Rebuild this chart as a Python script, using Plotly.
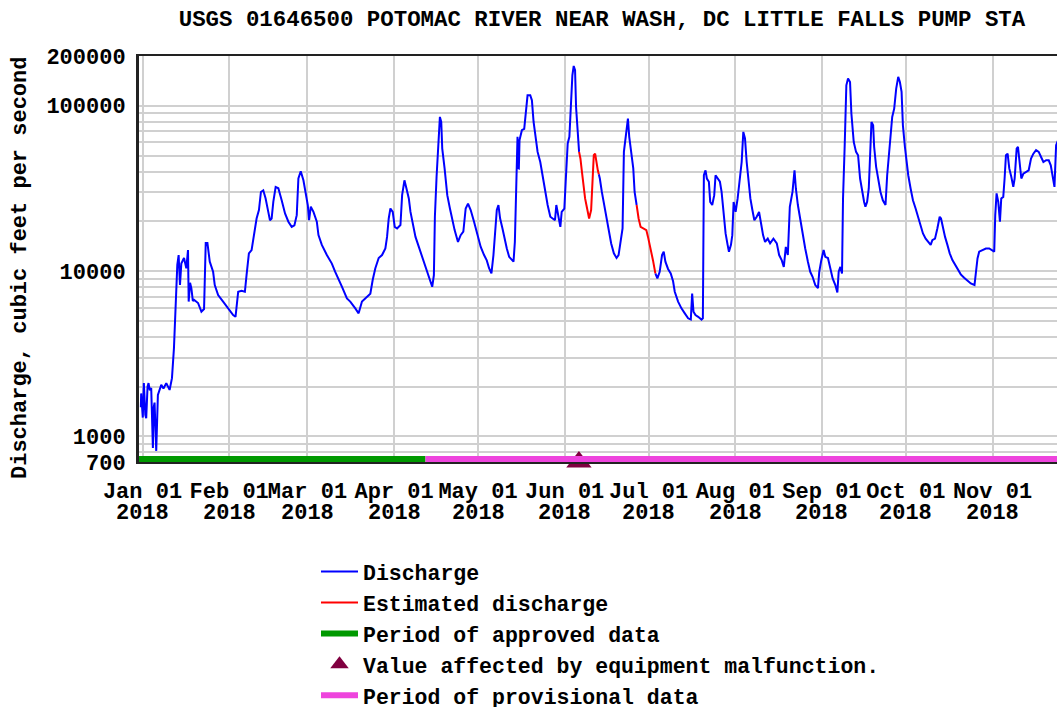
import pandas as pd
import plotly.graph_objects as go

# ---------------- data ----------------
# day = days since 2018-01-01 00:00, cfs = discharge (cubic feet per second)
day = [-0.6, -0.48, 0.1, 0.48, 1.0, 1.32, 1.8, 2.15, 2.6, 3.11, 3.71, 4.0, 4.31, 4.91, 5.5, 6.7, 7.5, 8.5,
       9.69, 10.53, 11.25, 11.96, 12.44, 12.92, 13.4, 13.88, 14.84, 15.67, 16.27, 16.51, 17.0, 17.47, 18.0,
       18.43, 19.86, 21.06, 22.01, 22.61, 23.21, 24.05, 25.25, 25.84, 27.04, 28.83, 30.63, 32.42, 33.26,
       34.22, 35.42, 36.61, 37.21, 38.05, 39.01, 39.6, 40.2, 40.8, 41.64, 42.35, 43.19, 44.03, 44.98, 45.58,
       46.18, 46.78, 47.62, 48.58, 49.77, 50.97, 52.17, 53.36, 54.32, 55.16, 55.75, 56.59, 57.55, 58.39,
       59.11, 59.58, 60.18, 61.14, 62.34, 62.93, 64.13, 65.93, 67.72, 68.92, 70.11, 71.31, 73.11, 74.3,
       76.1, 77.29, 78.49, 80.28, 81.48, 82.32, 83.27, 84.47, 85.67, 86.86, 87.46, 88.06, 88.66, 89.49,
       90.21, 91.05, 92.25, 92.85, 93.68, 94.4, 95.24, 95.84, 96.79, 97.63, 98.83, 100.02, 101.22, 102.42,
       103.61, 104.21, 104.57, 105.17, 105.77, 106.36, 106.84, 107.2, 108.04, 109.0, 109.95, 110.79,
       111.63, 112.83, 113.78, 114.74, 115.58, 116.42, 117.37, 118.57, 119.77, 120.96, 122.16, 123.12,
       123.95, 124.79, 125.51, 125.99, 126.71, 127.3, 127.9, 128.74, 129.58, 130.29, 131.13, 132.09,
       132.69, 133.17, 133.64, 134.12, 134.36, 134.6, 134.84, 135.08, 135.68, 136.52, 137.11, 137.71,
       138.67, 139.27, 139.87, 140.7, 141.3, 142.26, 143.1, 143.93, 144.89, 145.85, 146.69, 147.52, 148.0,
       148.72, 149.44, 149.92, 150.87, 151.35, 152.07, 152.67, 153.27, 153.74, 154.22, 154.7, 155.06,
       155.66, 156.14, 156.62, 157.1, 157.82, 158.29, 159.01, 159.73, 160.45, 160.92, 161.4, 161.88,
       162.24, 162.84, 163.2, 163.56, 164.28, 164.99, 165.83, 166.67, 167.62, 168.58, 169.54, 170.26,
       170.97, 171.69, 172.17, 173.01, 173.61, 174.08, 174.8, 175.52, 176.0, 176.72, 177.43, 178.15,
       179.11, 180.19, 180.79, 181.74, 182.58, 183.42, 184.14, 184.97, 185.81, 186.41, 187.01, 187.96,
       188.92, 189.76, 190.36, 191.55, 192.75, 193.95, 195.14, 196.1, 196.58, 197.06, 197.77, 198.73,
       199.93, 200.41, 200.77, 201.36, 201.84, 202.56, 203.04, 203.76, 204.48, 204.95, 205.67, 206.51,
       207.11, 207.83, 208.54, 209.26, 209.74, 210.46, 210.94, 211.41, 212.13, 212.85, 213.57, 214.29,
       214.88, 215.48, 216.08, 216.68, 217.4, 218.12, 218.83, 219.67, 220.51, 221.23, 221.94, 222.66,
       223.62, 224.46, 225.65, 226.85, 227.69, 228.64, 229.36, 230.08, 230.8, 231.51, 232.47, 233.19,
       233.67, 234.39, 235.22, 236.06, 237.02, 237.98, 238.81, 239.65, 240.61, 241.57, 242.04, 242.76,
       243.6, 244.2, 245.15, 245.99, 246.83, 247.79, 248.51, 248.99, 249.58, 250.18, 250.54, 251.14,
       251.73, 252.33, 253.05, 253.53, 254.37, 255.2, 255.92, 256.64, 257.36, 258.08, 258.55, 259.15,
       259.75, 260.23, 260.71, 261.31, 261.67, 262.38, 263.1, 263.94, 264.78, 265.73, 266.33, 266.93,
       267.65, 268.13, 268.84, 269.56, 270.28, 270.88, 271.48, 271.96, 272.67, 273.27, 273.87, 274.71,
       275.55, 276.5, 277.46, 278.3, 279.13, 280.09, 281.05, 281.89, 282.48, 283.44, 284.28, 285.11,
       285.59, 286.31, 287.03, 287.87, 288.7, 289.66, 290.62, 291.58, 292.65, 293.85, 295.05, 296.24,
       297.56, 298.04, 298.64, 299.24, 300.43, 301.63, 302.83, 304.02, 304.62, 304.98, 305.46, 306.06,
       306.66, 307.13, 307.85, 308.33, 308.81, 309.41, 310.0, 310.72, 311.44, 311.92, 312.64, 313.11,
       313.59, 314.31, 315.03, 315.99, 316.94, 317.78, 318.62, 319.58, 320.53, 321.37, 322.21, 323.17,
       324.12, 324.84, 325.56, 326.16, 326.75, 327.47, 328.07, 328.5]

cfs = [1500, 1820, 1300, 2100, 1350, 1290, 2000, 2100, 1900, 1960, 850, 1500, 1600, 817, 1780, 2050, 1950,
       2100, 1910, 2250, 3430, 6870, 10900, 12500, 8230, 11100, 12000, 10400, 13400, 6540, 8500, 7890,
       6600, 6700, 6410, 5680, 5900, 14800, 14800, 11400, 9900, 8230, 7160, 6540, 5950, 5420, 5290, 7500,
       7600, 7500, 9460, 12800, 13400, 15400, 18100, 20800, 23400, 30100, 30800, 27500, 22800, 20300,
       20800, 26200, 32300, 31700, 26800, 22300, 19900, 18500, 18900, 21800, 36300, 40200, 35400, 30100,
       25100, 20300, 24500, 22800, 19900, 16500, 14400, 12500, 11100, 9900, 8830, 8050, 6840, 6540, 5950,
       5550, 6540, 7000, 7300, 8830, 10400, 12000, 12500, 13700, 16100, 20800, 23900, 22800, 18500, 18100,
       19000, 28800, 35400, 31600, 27500, 22800, 19400, 16100, 14000, 12200, 10600, 9460, 8040, 9460,
       21300, 37200, 63400, 85600, 79800, 55100, 41800, 28800, 23900, 20300, 17700, 15000, 16500, 17300,
       23900, 25600, 23400, 19900, 16500, 14000, 12500, 11600, 10400, 9680, 12500, 16500, 23400, 25100,
       20800, 18100, 15400, 13700, 12200, 11600, 11400, 15000, 28800, 64900, 42000, 41800, 62000, 64900,
       71100, 72500, 93900, 115700, 115700, 107900, 79800, 61900, 52600, 45700, 37200, 30100, 25100,
       21300, 20800, 20300, 25100, 21800, 18500, 22800, 23900, 34700, 59100, 64900, 110400, 152700,
       174000, 163900, 98300, 61900, 52600, 48000, 40700, 31600, 27500, 23900, 20800, 23400, 34700,
       50200, 51300, 45700, 40700, 38500, 36300, 30100, 25600, 20800, 17300, 14700, 12800, 12000, 12500,
       15000, 18100, 52600, 71100, 83600, 64900, 52600, 41800, 30100, 25100, 20800, 18500, 18100, 17700,
       16100, 13700, 11600, 9680, 9030, 9900, 12500, 13100, 11400, 10300, 9680, 8670, 7500, 6540, 5950,
       5550, 5180, 5090, 7300, 5680, 5420, 5290, 5090, 5180, 38000, 40700, 36300, 34700, 26200, 25100,
       28800, 38000, 36300, 34700, 30100, 21300, 16900, 14400, 13100, 14400, 16500, 26200, 22800, 27500,
       37200, 45700, 69500, 63400, 45700, 34700, 27500, 23400, 20300, 21300, 22800, 19400, 16500, 15000,
       15700, 14700, 15700, 14700, 12500, 11600, 10600, 14000, 12500, 24500, 30100, 40700, 31600, 25100,
       20800, 16500, 13700, 11400, 9900, 9240, 8230, 7890, 9900, 11600, 13400, 12200, 12000, 10400, 9030,
       8230, 7430, 9900, 10600, 9680, 27500, 57700, 133000, 146000, 139300, 89800, 60400, 52600, 50200,
       36300, 30100, 26200, 24500, 26200, 31600, 59100, 79800, 76100, 56500, 42700, 35400, 30100, 26800,
       25100, 38000, 49000, 74300, 85600, 96100, 127100, 149500, 139300, 121400, 76100, 56500, 45700,
       38000, 31600, 26800, 23900, 20800, 18500, 16900, 15700, 15000, 14400, 15400, 15700, 18100, 21300,
       20800, 18100, 16100, 14400, 12800, 11650, 10900, 10100, 9550, 9110, 8700, 8420, 8230, 9680, 11930,
       13100, 13400, 13700, 13700, 13400, 13100, 21800, 29500, 26200, 19900, 27500, 28100, 36300, 50200,
       51300, 41800, 37200, 32300, 36300, 55100, 56500, 45700, 36300, 38800, 39700, 40700, 47900, 51300,
       53900, 52600, 49000, 45700, 46800, 46800, 43600, 36300, 32300, 57700, 61900, 63400, 64000]

# estimated-discharge periods (day ranges)
estimated_periods = [(156.14, 163.2), (176.72, 183.42)]
# data-status periods
approved_period = ("2017-12-30 18:00", "2018-04-12 05:00")
provisional_period = ("2018-04-12 05:00", "2018-11-26 00:00")
# equipment malfunction flag (drawn on the axis floor)
malfunction_date = "2018-06-06 02:00"
malfunction_flag_level = 700

month_ticks = ["2018-01-01", "2018-02-01", "2018-03-01", "2018-04-01", "2018-05-01", "2018-06-01",
               "2018-07-01", "2018-08-01", "2018-09-01", "2018-10-01", "2018-11-01"]
month_labels = ["Jan 01", "Feb 01", "Mar 01", "Apr 01", "May 01", "Jun 01",
                "Jul 01", "Aug 01", "Sep 01", "Oct 01", "Nov 01"]
year_label = "2018"
y_ticks = [700, 1000, 10000, 100000, 200000]
y_minor = [m * 10 ** k for k in (2, 3, 4) for m in range(1, 10) if 800 <= m * 10 ** k <= 200000] + [200000]

x_range = ("2017-12-30 17:50", "2018-11-24 01:40")

# ---------------- build ----------------
base = pd.Timestamp("2018-01-01")
dates = [base + pd.to_timedelta(d, unit="D") for d in day]


def in_est(d, strict):
    for a, b in estimated_periods:
        if (a < d < b) if strict else (a <= d <= b):
            return True
    return False


blue = [None if in_est(d, True) else v for d, v in zip(day, cfs)]
red = [v if in_est(d, False) else None for d, v in zip(day, cfs)]

FONT = "Liberation Mono"
TXT = dict(family=FONT, size=22, color="black", weight="bold")
LEG = dict(family=FONT, size=21.5, color="black", weight="bold")

fig = go.Figure()
fig.add_trace(go.Scatter(x=dates, y=blue, mode="lines", name="Discharge",
                         line=dict(color="#0000FF", width=2), connectgaps=False))
fig.add_trace(go.Scatter(x=dates, y=red, mode="lines", name="Estimated discharge",
                         line=dict(color="#FF0000", width=2), connectgaps=False))
fig.add_trace(go.Scatter(x=[None], y=[None], mode="lines", name="Period of approved data",
                         line=dict(color="#009900", width=6)))
fig.add_trace(go.Scatter(x=[malfunction_date], y=[malfunction_flag_level], mode="markers",
                         name="Value affected by equipment malfunction.", cliponaxis=False,
                         marker=dict(symbol="triangle-up", size=22, color="#800040")))
fig.add_trace(go.Scatter(x=[None], y=[None], mode="lines", name="Period of provisional data",
                         line=dict(color="#EE44DD", width=6)))

bar_h = 6 / 406
fig.add_shape(type="rect", xref="x", yref="paper", x0=approved_period[0], x1=approved_period[1],
              y0=0, y1=bar_h, fillcolor="#009900", line_width=0, layer="above")
fig.add_shape(type="rect", xref="x", yref="paper", x0=provisional_period[0], x1=provisional_period[1],
              y0=0, y1=bar_h, fillcolor="#EE44DD", line_width=0, layer="above")

for t in month_ticks:
    fig.add_annotation(x=t, xref="x", y=-(513 - 462) / 406, yref="paper", text=year_label, showarrow=False,
                       font=TXT, xanchor="center", yanchor="middle")

fig.add_annotation(x=(20 - 139) / 918, xref="paper", y=(462 - 268) / 406, yref="paper",
                   text="Discharge, cubic feet per second",
                   textangle=-90, showarrow=False, xanchor="center", yanchor="middle", font=TXT)

fig.update_layout(
    width=1057, height=707, autosize=False,
    margin=dict(l=139, r=0, t=56, b=245, autoexpand=False),
    paper_bgcolor="white", plot_bgcolor="white",
    font=TXT,
    title=dict(text="USGS 01646500 POTOMAC RIVER NEAR WASH, DC LITTLE FALLS PUMP STA",
               x=602 / 1057, xanchor="center", xref="container",
               y=1 - 18 / 707, yanchor="middle", yref="container",
               font=dict(family=FONT, size=22.4, color="black", weight="bold")),
    showlegend=True,
    legend=dict(xref="container", yref="container", x=316 / 1057, y=1 - 551 / 707,
                xanchor="left", yanchor="top", bgcolor="rgba(0,0,0,0)",
                font=LEG, itemwidth=37, tracegroupgap=0),
)

fig.update_xaxes(type="date", range=list(x_range), tickvals=month_ticks, ticktext=month_labels,
                 tickangle=0, tickfont=TXT,
                 showgrid=True, gridcolor="#D0D0D0", gridwidth=2, ticks="",
                 showline=True, linecolor="#222222", linewidth=2, mirror=True,
                 zeroline=False, ticklabelstandoff=8, automargin=False)
fig.update_yaxes(type="log", range=[2.845098, 5.30103], tickvals=y_ticks,
                 ticktext=[str(v) for v in y_ticks], tickfont=TXT,
                 showgrid=True, gridcolor="#D0D0D0", gridwidth=2, ticks="",
                 minor=dict(tickvals=y_minor, showgrid=True, gridcolor="#D0D0D0", gridwidth=2, ticks=""),
                 showline=True, linecolor="#222222", linewidth=3, mirror=False,
                 zeroline=False, ticklabelstandoff=6, automargin=False)

fig.write_html("out.html", config={"displayModeBar": False},
               post_script="document.body.style.margin='0';document.body.style.padding='0';")
